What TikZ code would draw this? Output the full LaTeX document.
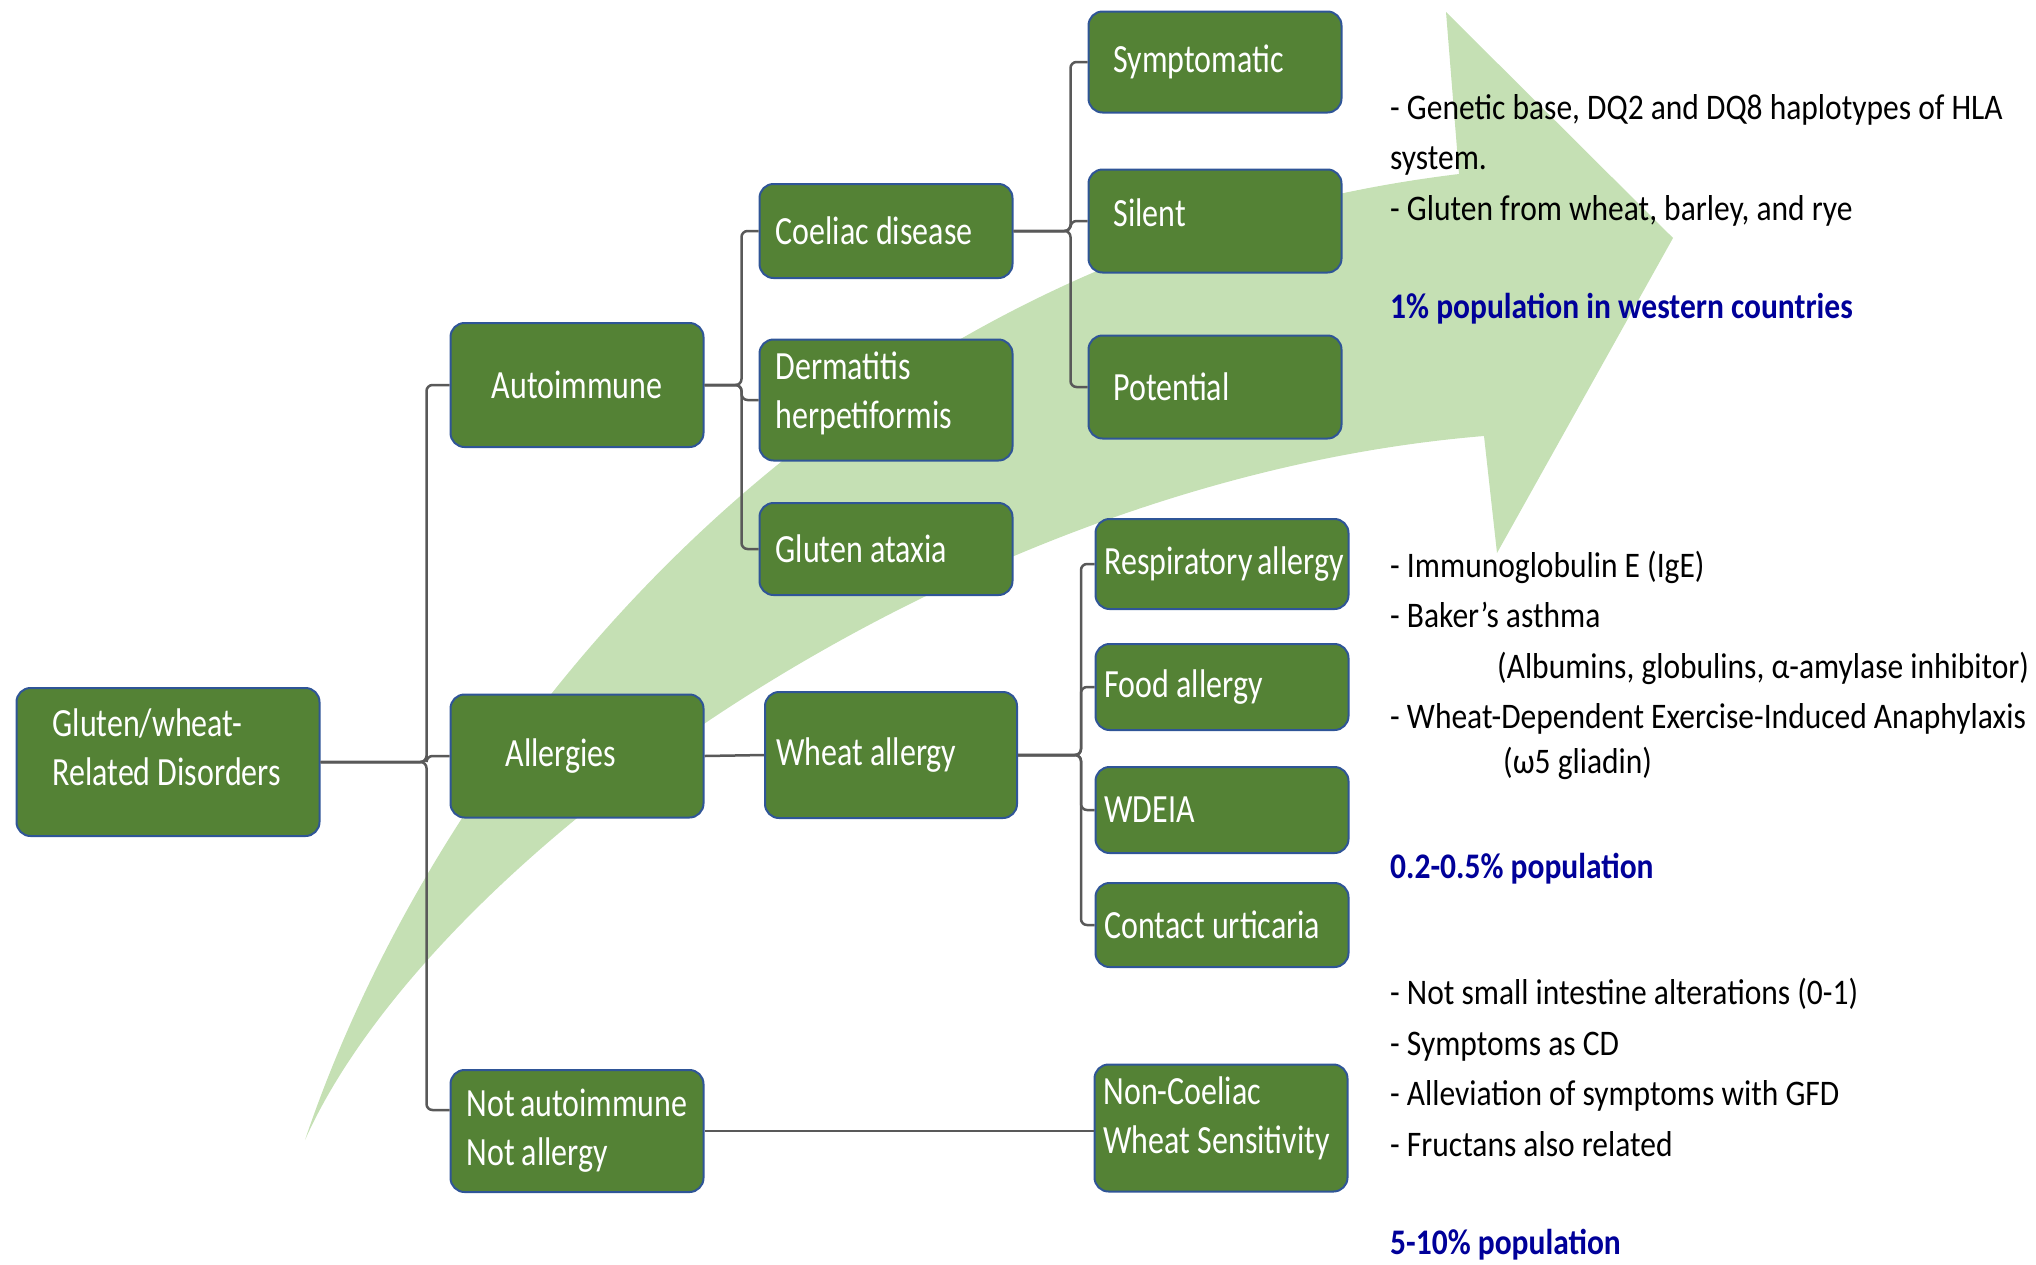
\documentclass[tikz,border=0pt]{standalone}
\usepackage{fontspec}
\setmainfont{Carlito}
\newfontfamily\fontboite{Carlito}[FakeStretch=0.8]
\newfontfamily\fontnote{Carlito}[FakeStretch=0.875]
\hyphenpenalty=10000
\exhyphenpenalty=10000

\definecolor{vertboite}{RGB}{84,130,53}
\definecolor{bordboite}{RGB}{47,85,151}
\definecolor{vertfleche}{RGB}{197,224,180}
\definecolor{gristrait}{RGB}{89,89,89}
\definecolor{bleupop}{RGB}{0,0,153}

\begin{document}
\begin{tikzpicture}[x=1pt, y=-1pt]

    % Styles des noeuds
    \tikzstyle{boite} = [rectangle, rounded corners=14pt, draw=bordboite, line width=2pt, fill=vertboite, text=white, font=\fontboite\fontsize{40}{49}\selectfont, align=left, inner ysep=0pt, inner xsep=16pt, text width=221pt, execute at begin node={\spaceskip=0pt\relax}]
    \tikzstyle{racine} = [boite, inner xsep=36pt, text width=231pt]
    \tikzstyle{stade} = [boite, inner xsep=25pt, text width=203pt]
    \tikzstyle{forme} = [boite, inner xsep=9pt, text width=235pt]
    \tikzstyle{lien} = [draw=gristrait, line width=2.5pt, rounded corners=6pt]
    \tikzstyle{note} = [anchor=base west, align=left, inner sep=0pt, font=\fontnote\fontsize{36}{50.4}\selectfont]
    \tikzstyle{chiffre} = [note, font=\fontnote\bfseries\fontsize{36}{50.4}\selectfont, text=bleupop]

    \useasboundingbox (0,0) rectangle (2036,1264);

    % Fleche de fond
    \fill [vertfleche] (305,1140) .. controls (440,740) and (830,250) .. (1459,174) -- (1446,12) -- (1673,238) -- (1497,553) -- (1484,436) .. controls (950,480) and (430,860) .. (305,1140) -- cycle;

    % Noeuds
    \node (racine) [racine, minimum height=148pt, text depth=79pt] at (168,762) {Gluten/wheat-\\Related~Disorders};
    \node (auto) [boite, align=center, minimum height=124pt] at (577,385) {Autoimmune};
    \node (allerg) [boite, inner xsep=55pt, text width=143pt, minimum height=123pt] at (577,756) {Allergies};
    \node (nonauto) [boite, minimum height=122pt] at (577,1131) {Not~autoimmune\\Not~allergy};
    \node (coeliaque) [boite, minimum height=94pt] at (886,231) {Coeliac~disease};
    \node (dermatite) [boite, minimum height=121pt, text depth=68pt] at (886,400) {Dermatitis\\herpetiformis};
    \node (ataxie) [boite, minimum height=92pt] at (886,549) {Gluten~ataxia};
    \node (ble) [boite, inner xsep=11pt, text width=230pt, minimum height=126pt] at (891,755) {Wheat~allergy};
    \node (symptom) [stade, minimum height=101pt] at (1215,62) {Symptomatic};
    \node (silence) [stade, minimum height=103pt, text depth=16pt] at (1215,221) {Silent};
    \node (potentiel) [stade, minimum height=103pt] at (1215,387) {Potential};
    \node (respir) [forme, minimum height=90pt] at (1222,564) {Respiratory~allergy};
    \node (alim) [forme, minimum height=86pt] at (1222,687) {Food~allergy};
    \node (wdeia) [forme, minimum height=86pt] at (1222,810) {WDEIA};
    \node (contact) [forme, minimum height=84pt] at (1222,925) {Contact~urticaria};
    \node (ncws) [forme, minimum height=127pt, text depth=75pt] at (1221,1128) {Non-Coeliac\\Wheat~Sensitivity};

    % Liens
    \draw [lien] (racine.east) -- ++(106,0) |- (auto.west);
    \draw [lien] (racine.east) -- ++(106,0) |- (allerg.west);
    \draw [lien] (racine.east) -- ++(106,0) |- ([yshift=21pt]nonauto.west);
    \draw [lien] (auto.east) -- ++(37,0) |- (coeliaque.west);
    \draw [lien] (auto.east) -- ++(37,0) |- (dermatite.west);
    \draw [lien] (auto.east) -- ++(37,0) |- (ataxie.west);
    \draw [lien] (coeliaque.east) -- ++(57,0) |- (symptom.west);
    \draw [lien] (coeliaque.east) -- ++(57,0) |- (silence.west);
    \draw [lien] (coeliaque.east) -- ++(57,0) |- (potentiel.west);
    \draw [lien] (allerg.east) -- (ble.west);
    \draw [lien] (ble.east) -- ++(63,0) |- (respir.west);
    \draw [lien] (ble.east) -- ++(63,0) |- (alim.west);
    \draw [lien] (ble.east) -- ++(63,0) |- (wdeia.west);
    \draw [lien] (ble.east) -- ++(63,0) |- (contact.west);
    \draw [lien] (nonauto.east) -- (nonauto.east -| ncws.west);

    % Annotations
    \node (note1) [note] at (1390,220) {- Genetic base, DQ2 and DQ8 haplotypes of HLA\\system.\\- Gluten from wheat, barley, and rye};
    \node (pop1) [chiffre] at (1390,318) {1\% population in western countries};
    \node (note2) [note] at (1390,773) {- Immunoglobulin E (IgE)\\- Baker’s asthma\\\hspace*{107pt}(Albumins, globulins, α-amylase inhibitor)\\- Wheat-Dependent Exercise-Induced Anaphylaxis\\[-6pt]\hspace*{113pt}(ω5 gliadin)};
    \node (pop2) [chiffre] at (1390,878) {0.2-0.5\% population};
    \node (note3) [note] at (1390,1156) {- Not small intestine alterations (0-1)\\- Symptoms as CD\\- Alleviation of symptoms with GFD\\- Fructans also related};
    \node (pop3) [chiffre] at (1390,1254) {5-10\% population};

\end{tikzpicture}
\end{document}
